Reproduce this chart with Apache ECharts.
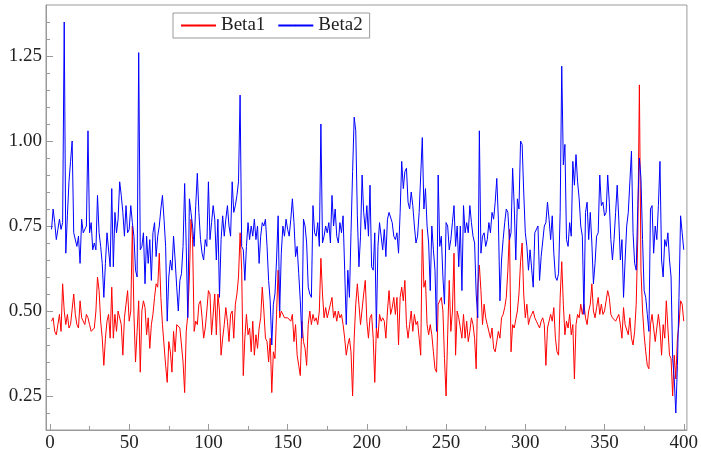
<!DOCTYPE html>
<html>
<head>
<meta charset="utf-8">
<script src="https://cdn.jsdelivr.net/npm/echarts@6/dist/echarts.min.js"></script>
<style>
  html, body { margin: 0; padding: 0; background: #fff; }
  #chart { width: 701px; height: 453px; }
</style>
</head>
<body>
<div id="chart"></div>
<script>
// Beta1 (red) and Beta2 (blue), one value per step 1..400
var beta1 = [
  0.47, 0.48, 0.44, 0.43, 0.46, 0.49, 0.44, 0.58, 0.50, 0.46,
  0.49, 0.45, 0.46, 0.46, 0.55, 0.49, 0.46, 0.45, 0.53, 0.48,
  0.475, 0.46, 0.49, 0.48, 0.46, 0.44, 0.445, 0.45, 0.50, 0.60,
  0.56, 0.47, 0.42, 0.34, 0.42, 0.47, 0.49, 0.42, 0.57, 0.42,
  0.49, 0.44, 0.50, 0.50, 0.46, 0.37, 0.48, 0.52, 0.56, 0.47,
  0.50, 0.75, 0.49, 0.35, 0.44, 0.53, 0.32, 0.50, 0.53, 0.51,
  0.43, 0.48, 0.39, 0.46, 0.49, 0.54, 0.58, 0.57, 0.67, 0.54,
  0.46, 0.40, 0.34, 0.29, 0.41, 0.38, 0.32, 0.44, 0.38, 0.46,
  0.46, 0.45, 0.40, 0.35, 0.26, 0.44, 0.49, 0.60, 0.77, 0.71,
  0.44, 0.47, 0.46, 0.52, 0.53, 0.48, 0.42, 0.45, 0.50, 0.56,
  0.55, 0.43, 0.43, 0.55, 0.43, 0.55, 0.50, 0.37, 0.42, 0.46,
  0.51, 0.47, 0.41, 0.49, 0.50, 0.42, 0.52, 0.55, 0.60, 0.73,
  0.62, 0.31, 0.42, 0.49, 0.43, 0.45, 0.38, 0.47, 0.37, 0.43,
  0.39, 0.45, 0.48, 0.57, 0.50, 0.42, 0.41, 0.35, 0.42, 0.26,
  0.38, 0.36, 0.49, 0.62, 0.48, 0.50, 0.49, 0.48, 0.48, 0.48,
  0.48, 0.47, 0.49, 0.41, 0.46, 0.37, 0.34, 0.31, 0.47, 0.41,
  0.39, 0.34, 0.46, 0.50, 0.46, 0.49, 0.47, 0.48, 0.46, 0.50,
  0.655, 0.55, 0.48, 0.51, 0.48, 0.48, 0.52, 0.54, 0.48, 0.50,
  0.47, 0.50, 0.48, 0.49, 0.46, 0.42, 0.37, 0.40, 0.42, 0.38,
  0.25, 0.42, 0.52, 0.58, 0.52, 0.46, 0.46, 0.55, 0.59, 0.47,
  0.42, 0.48, 0.49, 0.42, 0.29, 0.45, 0.42, 0.49, 0.47, 0.48,
  0.47, 0.42, 0.50, 0.56, 0.49, 0.51, 0.54, 0.49, 0.54, 0.40,
  0.54, 0.57, 0.53, 0.59, 0.46, 0.42, 0.46, 0.50, 0.44, 0.49,
  0.46, 0.47, 0.42, 0.37, 0.74, 0.57, 0.59, 0.46, 0.43, 0.46,
  0.43, 0.38, 0.33, 0.32, 0.52, 0.52, 0.54, 0.50, 0.36, 0.25,
  0.43, 0.59, 0.44, 0.50, 0.67, 0.37, 0.50, 0.48, 0.45, 0.42,
  0.49, 0.42, 0.47, 0.41, 0.44, 0.48, 0.46, 0.42, 0.33, 0.57,
  0.635, 0.56, 0.46, 0.52, 0.48, 0.46, 0.46, 0.42, 0.45, 0.39,
  0.38, 0.38, 0.44, 0.42, 0.48, 0.49, 0.51, 0.54, 0.62, 0.74,
  0.38, 0.46, 0.45, 0.45, 0.50, 0.55, 0.645, 0.70, 0.55, 0.48,
  0.52, 0.46, 0.48, 0.49, 0.50, 0.48, 0.47, 0.46, 0.45, 0.47,
  0.48, 0.46, 0.34, 0.45, 0.47, 0.49, 0.47, 0.51, 0.42, 0.38,
  0.37, 0.54, 0.645, 0.52, 0.43, 0.47, 0.45, 0.49, 0.43, 0.46,
  0.30, 0.46, 0.49, 0.48, 0.52, 0.49, 0.52, 0.48, 0.46, 0.50,
  0.52, 0.58, 0.50, 0.48, 0.51, 0.54, 0.49, 0.52, 0.49, 0.50,
  0.50, 0.56, 0.54, 0.49, 0.48, 0.48, 0.47, 0.47, 0.49, 0.46,
  0.42, 0.51, 0.46, 0.46, 0.43, 0.48, 0.42, 0.40, 0.44, 0.52,
  0.72, 1.165, 0.62, 0.50, 0.43, 0.38, 0.34, 0.33, 0.46, 0.49,
  0.45, 0.41, 0.45, 0.49, 0.45, 0.37, 0.46, 0.42, 0.53, 0.45,
  0.37, 0.36, 0.25, 0.37, 0.30, 0.42, 0.46, 0.53, 0.52, 0.47
];
var beta2 = [
  0.74, 0.80, 0.76, 0.71, 0.74, 0.77, 0.74, 0.76, 1.35, 0.67,
  0.78, 0.88, 0.94, 1.00, 0.73, 0.73, 0.69, 0.72, 0.64, 0.77,
  0.73, 0.73, 0.75, 1.03, 0.73, 0.76, 0.68, 0.70, 0.68, 0.84,
  0.73, 0.69, 0.64, 0.54, 0.64, 0.73, 0.73, 0.63, 0.86, 0.63,
  0.79, 0.73, 0.77, 0.88, 0.84, 0.79, 0.72, 0.81, 0.73, 0.74,
  0.81, 0.76, 0.72, 0.62, 0.60, 1.26, 0.68, 0.69, 0.73, 0.58,
  0.72, 0.64, 0.71, 0.59, 0.73, 0.76, 0.66, 0.72, 0.75, 0.80,
  0.84, 0.77, 0.69, 0.47, 0.60, 0.65, 0.62, 0.72, 0.65, 0.57,
  0.50, 0.59, 0.61, 0.69, 0.875, 0.69, 0.48, 0.83, 0.79, 0.75,
  0.69, 0.81, 0.905, 0.79, 0.71, 0.67, 0.65, 0.71, 0.69, 0.88,
  0.71, 0.76, 0.81, 0.77, 0.65, 0.77, 0.54, 0.71, 0.78, 0.72,
  0.77, 0.81, 0.75, 0.72, 0.88, 0.79, 0.81, 0.84, 0.88, 1.135,
  0.69, 0.68, 0.59, 0.69, 0.76, 0.71, 0.75, 0.72, 0.77, 0.71,
  0.75, 0.64, 0.72, 0.76, 0.75, 0.77, 0.69, 0.59, 0.53, 0.40,
  0.52, 0.55, 0.65, 0.78, 0.50, 0.67, 0.75, 0.72, 0.77, 0.74,
  0.72, 0.77, 0.83, 0.76, 0.66, 0.69, 0.61, 0.53, 0.42, 0.77,
  0.75, 0.70, 0.57, 0.55, 0.54, 0.81, 0.73, 0.72, 0.76, 0.69,
  1.05, 0.70, 0.72, 0.75, 0.73, 0.76, 0.70, 0.84, 0.75, 0.80,
  0.72, 0.70, 0.76, 0.73, 0.78, 0.62, 0.46, 0.62, 0.54, 0.73,
  0.91, 1.07, 1.03, 0.78, 0.63, 0.72, 0.90, 0.79, 0.74, 0.81,
  0.72, 0.87, 0.63, 0.62, 0.73, 0.45, 0.69, 0.76, 0.72, 0.68,
  0.74, 0.66, 0.77, 0.79, 0.79, 0.76, 0.72, 0.71, 0.73, 0.67,
  0.79, 0.94, 0.86, 0.91, 0.92, 0.82, 0.80, 0.85, 0.81, 0.75,
  0.70, 0.72, 0.79, 0.90, 1.01, 0.80, 0.86, 0.75, 0.70, 0.56,
  0.75, 0.68, 0.62, 0.44, 0.90, 0.69, 0.72, 0.60, 0.52, 0.76,
  0.75, 0.68, 0.71, 0.76, 0.81, 0.69, 0.75, 0.63, 0.75, 0.56,
  0.81, 0.73, 0.76, 0.73, 0.81, 0.76, 0.72, 0.70, 0.55, 0.48,
  1.03, 0.67, 0.72, 0.73, 0.69, 0.71, 0.76, 0.73, 0.79, 0.77,
  0.82, 0.89, 0.77, 0.53, 0.65, 0.71, 0.76, 0.80, 0.79, 0.71,
  0.73, 0.92, 0.81, 0.65, 0.83, 0.80, 1.00, 0.99, 0.85, 0.73,
  0.69, 0.62, 0.68, 0.68, 0.57, 0.73, 0.73, 0.75, 0.59, 0.66,
  0.66, 0.75, 0.76, 0.82, 0.77, 0.71, 0.78, 0.67, 0.60, 0.59,
  0.61, 0.79, 1.22, 0.93, 0.99, 0.71, 0.69, 0.76, 0.72, 0.94,
  0.87, 0.96, 0.88, 0.83, 0.75, 0.72, 0.49, 0.79, 0.82, 0.71,
  0.79, 0.70, 0.58, 0.64, 0.72, 0.73, 0.90, 0.81, 0.82, 0.78,
  0.79, 0.90, 0.82, 0.71, 0.65, 0.71, 0.79, 0.87, 0.77, 0.65,
  0.71, 0.54, 0.65, 0.75, 0.79, 0.79, 0.97, 0.73, 0.64, 0.62,
  0.81, 0.95, 0.89, 0.71, 0.56, 0.54, 0.49, 0.44, 0.80, 0.81,
  0.67, 0.75, 0.71, 0.81, 0.94, 0.65, 0.60, 0.71, 0.69, 0.73,
  0.65, 0.60, 0.36, 0.30, 0.20, 0.34, 0.54, 0.78, 0.73, 0.68
];

// tick positions
var xMajor = [0, 50, 100, 150, 200, 250, 300, 350, 400];
var xMinor = [25, 75, 125, 175, 225, 275, 325, 375];
var yMajor = [0.25, 0.5, 0.75, 1.0, 1.25];
var yMinor = [0.2, 0.3, 0.35, 0.4, 0.45, 0.55, 0.6, 0.65, 0.7, 0.8, 0.85, 0.9, 0.95,
              1.05, 1.1, 1.15, 1.2, 1.3, 1.35];

function pairs(arr) {
    return arr.map(function (v, i) { return [i + 1, v]; });
}

var gray = '#9a9a9a';
var labelFont = { fontFamily: 'Liberation Serif', fontSize: 19, color: '#222' };

var myChart = echarts.init(document.getElementById('chart'));

var option = {
    animation: false,
    grid: {
        left: 46, right: 13, top: 5, bottom: 23,
        show: true, borderColor: gray, borderWidth: 1
    },
    legend: {
        left: 173, top: 13,
        padding: [3, 7],
        itemGap: 12,
        itemWidth: 35,
        itemHeight: 2,   // keeps the line legend's marker dot tiny
        borderColor: gray,
        borderWidth: 1,
        textStyle: { fontFamily: 'Liberation Serif', fontSize: 19, color: '#222' },
        data: ['Beta1', 'Beta2']
    },
    xAxis: [{
        type: 'value', min: -2.5, max: 402,
        axisLine: { onZero: false, lineStyle: { color: gray } },
        axisTick: { inside: true, length: 6, customValues: xMajor, lineStyle: { color: gray } },
        axisLabel: Object.assign({ customValues: xMajor, margin: 4 }, labelFont),
        splitLine: { show: false }
    }, {
        type: 'value', min: -2.5, max: 402, position: 'bottom',
        axisLine: { show: false, onZero: false },
        axisTick: { inside: true, length: 4, customValues: xMinor, lineStyle: { color: gray } },
        axisLabel: { show: false },
        splitLine: { show: false }
    }],
    yAxis: [{
        type: 'value', min: 0.15, max: 1.40, position: 'left',
        axisLine: { show: true, onZero: false, lineStyle: { color: gray } },
        axisTick: { show: true, inside: true, length: 7, customValues: yMajor, lineStyle: { color: gray } },
        axisLabel: Object.assign({
            customValues: yMajor, margin: 4,
            formatter: function (v) { return v.toFixed(2); }
        }, labelFont),
        splitLine: { show: false }
    }, {
        type: 'value', min: 0.15, max: 1.40, position: 'left',
        axisLine: { show: false, onZero: false },
        axisTick: { show: true, inside: true, length: 4, customValues: yMinor, lineStyle: { color: gray } },
        axisLabel: { show: false },
        splitLine: { show: false }
    }],
    series: [{
        name: 'Beta1',
        type: 'line',
        data: pairs(beta1),
        showSymbol: false,
        symbol: 'none',
        color: '#ff0000',
        lineStyle: { width: 1, color: '#ff0000' }
    }, {
        name: 'Beta2',
        type: 'line',
        data: pairs(beta2),
        showSymbol: false,
        symbol: 'none',
        color: '#0000ff',
        lineStyle: { width: 1, color: '#0000ff' }
    }]
};

myChart.setOption(option);
window.addEventListener('resize', function () {
    myChart.resize();
});
</script>
</body>
</html>
